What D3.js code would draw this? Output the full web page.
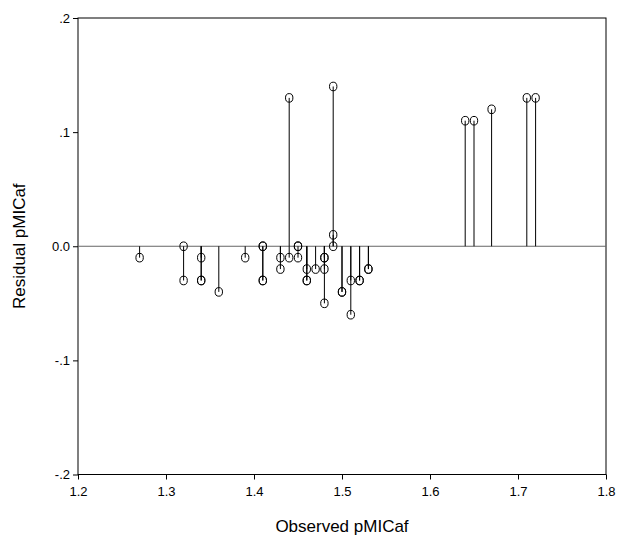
<!DOCTYPE html>
<html>
<head>
<meta charset="utf-8">
<script src="https://cdn.jsdelivr.net/npm/d3@7/dist/d3.min.js"></script>
<style>
  html, body { margin: 0; padding: 0; background: #fff; }
  svg { display: block; }
  text { font-family: "Liberation Sans", Arial, sans-serif; fill: #000; }
</style>
</head>
<body>
<svg id="chart" width="617" height="556"></svg>
<script>
// Observed pMICaf and the matching residuals (one entry per case)
const observed = [
  1.27, 1.32, 1.32, 1.34, 1.34, 1.34, 1.36, 1.39,
  1.41, 1.41, 1.41, 1.41, 1.43, 1.43, 1.44, 1.44,
  1.45, 1.45, 1.45, 1.46, 1.46, 1.46, 1.47,
  1.48, 1.48, 1.48, 1.48, 1.49, 1.49, 1.49,
  1.50, 1.50, 1.51, 1.51, 1.52, 1.52, 1.53, 1.53,
  1.64, 1.65, 1.67, 1.71, 1.72
];
const residual = [
  -0.01, 0.00, -0.03, -0.01, -0.03, -0.03, -0.04, -0.01,
  0.00, 0.00, -0.03, -0.03, -0.01, -0.02, 0.13, -0.01,
  0.00, 0.00, -0.01, -0.02, -0.03, -0.03, -0.02,
  -0.01, -0.01, -0.02, -0.05, 0.14, 0.01, 0.00,
  -0.04, -0.04, -0.03, -0.06, -0.03, -0.03, -0.02, -0.02,
  0.11, 0.11, 0.12, 0.13, 0.13
];
const xTicks = [1.2, 1.3, 1.4, 1.5, 1.6, 1.7, 1.8];
const yTicks = [0.2, 0.1, 0.0, -0.1, -0.2];
const yTickLabels = [".2", ".1", "0.0", "-.1", "-.2"];

const points = observed.map((x, i) => ({ x, r: residual[i] }));

const svg = d3.select("#chart");
const plotLeft = 78, plotRight = 606, plotTop = 18, plotBottom = 474.5;

const x = d3.scaleLinear().domain([1.2, 1.8]).range([plotLeft, plotRight]);
const y = d3.scaleLinear().domain([-0.2, 0.2]).range([plotBottom, plotTop]);

// Frame around the plotting region
svg.append("rect")
  .attr("x", plotLeft).attr("y", plotTop)
  .attr("width", plotRight - plotLeft).attr("height", plotBottom - plotTop)
  .attr("fill", "none").attr("stroke", "#000").attr("stroke-width", 1);

// Axes
const xAxis = svg.append("g")
  .attr("transform", `translate(0,${plotBottom})`)
  .call(d3.axisBottom(x).tickValues(xTicks).tickSize(5).tickPadding(7)
    .tickFormat(d3.format(".1f")));
const yAxis = svg.append("g")
  .attr("transform", `translate(${plotLeft},0)`)
  .call(d3.axisLeft(y).tickValues(yTicks).tickSize(5).tickPadding(3)
    .tickFormat((d, i) => yTickLabels[i]));
[xAxis, yAxis].forEach(g => {
  g.select(".domain").remove();
  g.selectAll("text").attr("font-size", 13)
    .attr("font-family", "'Liberation Sans', Arial, sans-serif");
  g.selectAll("line").attr("stroke", "#000");
});

// Zero reference line
svg.append("line")
  .attr("x1", plotLeft).attr("x2", plotRight)
  .attr("y1", y(0)).attr("y2", y(0))
  .attr("stroke", "#666").attr("stroke-width", 1);

// Drop lines from zero to each residual
svg.append("g").selectAll("line")
  .data(points).join("line")
  .attr("x1", d => x(d.x)).attr("x2", d => x(d.x))
  .attr("y1", y(0)).attr("y2", d => y(d.r))
  .attr("stroke", "#000").attr("stroke-width", 1);

// Hollow markers
svg.append("g").selectAll("ellipse")
  .data(points).join("ellipse")
  .attr("cx", d => x(d.x)).attr("cy", d => y(d.r))
  .attr("rx", 3.7).attr("ry", 4.3)
  .attr("fill", "none").attr("stroke", "#000").attr("stroke-width", 1);

// Axis titles
svg.append("text")
  .attr("x", (plotLeft + plotRight) / 2).attr("y", 532)
  .attr("text-anchor", "middle").attr("font-size", 17)
  .text("Observed pMICaf");
svg.append("text")
  .attr("transform", `translate(25,${(plotTop + plotBottom) / 2}) rotate(-90)`)
  .attr("text-anchor", "middle").attr("font-size", 17)
  .text("Residual pMICaf");
</script>
</body>
</html>
